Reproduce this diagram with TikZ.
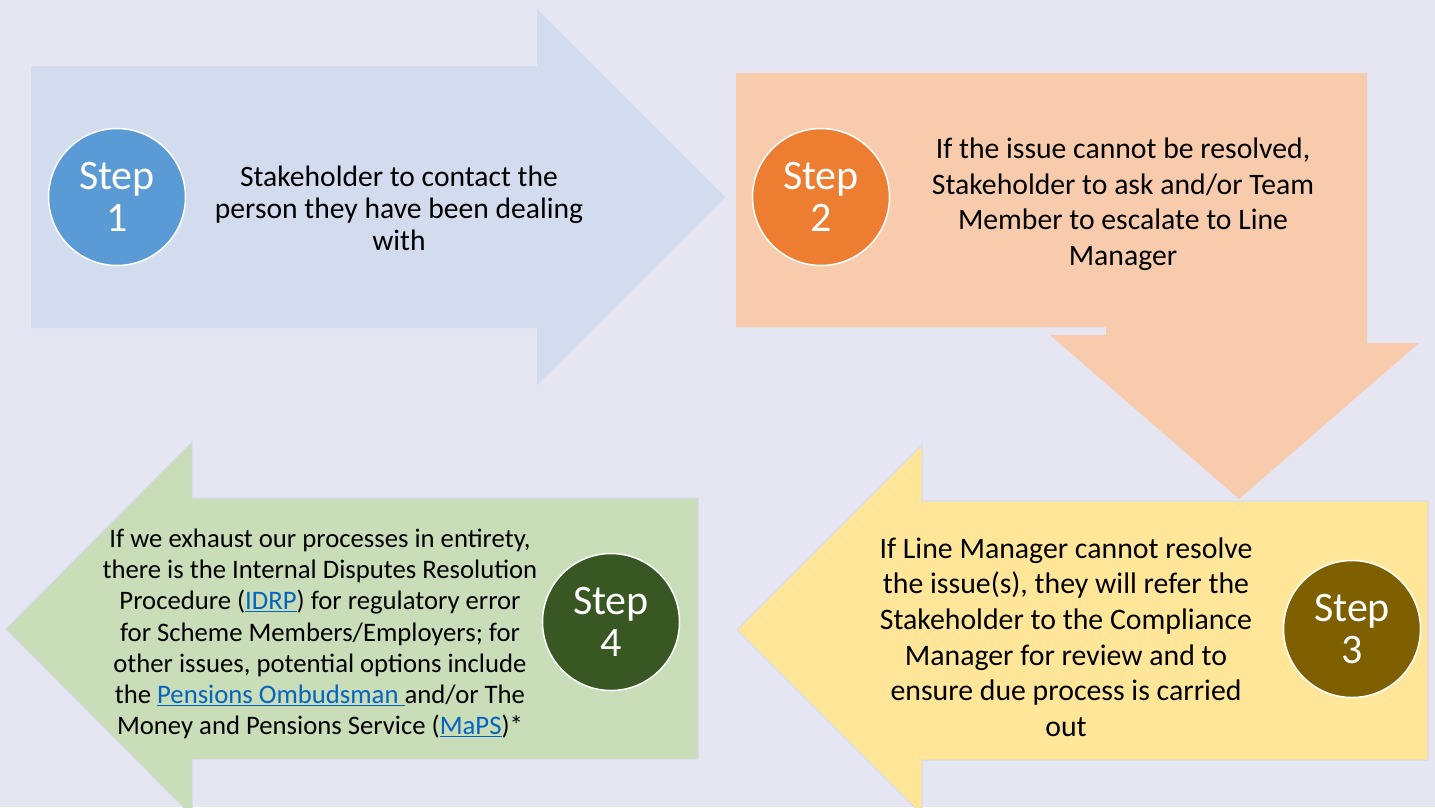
\documentclass[tikz,border=0pt]{standalone}
\usepackage{fontspec}
\setmainfont{Carlito}
\definecolor{bgc}{HTML}{E6E6F3}
\definecolor{blueA}{HTML}{D2DCEE}
\definecolor{peachA}{HTML}{F8CBAD}
\definecolor{yellowA}{HTML}{FFE699}
\definecolor{greenA}{HTML}{C8DDB8}
\definecolor{edgeA}{HTML}{D3DAEE}
\definecolor{stepblue}{HTML}{5B9BD5}
\definecolor{steporange}{HTML}{ED7D31}
\definecolor{stepbrown}{HTML}{7F6000}
\definecolor{stepgreen}{HTML}{385723}
\definecolor{link}{HTML}{0563C1}
\newcommand{\weblink}[1]{\textcolor{link}{\underline{#1}}}
\tikzset{
  stepcircle/.style={circle, minimum size=137pt, inner sep=0pt, draw=white,
    line width=1.5pt, text=white, align=center,
    font=\fontsize{42}{42}\selectfont},
  bodytext/.style={align=center, text=black, inner sep=0pt},
}
\begin{document}
\begin{tikzpicture}[x=1pt,y=-1pt]
  % page background
  \fill[bgc] (0,0) rectangle (1435,807);
  \useasboundingbox (0,0) rectangle (1435,807);

  % step 1 block arrow, pointing right
  \fill[blueA] (31,66) -- (537,66) -- (537,9) -- (725,197) -- (537,385)
    -- (537,328) -- (31,328) -- cycle;

  % step 2 bent arrow, pointing down
  \fill[peachA] (736,73) -- (1367,73) -- (1367,343) -- (1419,343) -- (1239,499)
    -- (1050,335) -- (1106,335) -- (1106,327) -- (736,327) -- cycle;

  % step 3 block arrow, pointing left
  \filldraw[fill=yellowA, draw=edgeA, line width=1pt]
    (1428,501) -- (922,501) -- (922,445) -- (737,630) -- (922,815)
    -- (922,760) -- (1428,760) -- cycle;

  % step 4 block arrow, pointing left
  \filldraw[fill=greenA, draw=edgeA, line width=1pt]
    (698,498) -- (192,498) -- (192,442) -- (6,629) -- (192,816)
    -- (192,759) -- (698,759) -- cycle;

  % step badges
  \node[stepcircle, fill=stepblue]   (s1) at (117,197)  {Step\\1};
  \node[stepcircle, fill=steporange] (s2) at (821,197)  {Step\\2};
  \node[stepcircle, fill=stepbrown]  (s3) at (1352,629) {Step\\3};
  \node[stepcircle, fill=stepgreen]  (s4) at (611,622)  {Step\\4};

  % step descriptions
  \node[bodytext, font=\fontsize{29.6}{32}\selectfont] (t1) at (399,208)
    {Stakeholder to contact the\\person they have been dealing\\with};
  \node[bodytext, font=\fontsize{29.7}{35.5}\selectfont] (t2) at (1123,204)
    {If the issue cannot be resolved,\\Stakeholder to ask and/or Team\\Member to escalate to Line\\Manager};
  \node[bodytext, font=\fontsize{29.8}{35.6}\selectfont] (t3) at (1066,637)
    {If Line Manager cannot resolve\\the issue(s), they will refer the\\Stakeholder to the Compliance\\Manager for review and to\\ensure due process is carried\\out};
  \node[bodytext, font=\fontsize{26.7}{31.2}\selectfont] (t4) at (320,634)
    {If we exhaust our processes in entirety,\\there is the Internal Disputes Resolution\\Procedure (\weblink{IDRP}) for regulatory error\\for Scheme Members/Employers; for\\other issues, potential options include\\the \weblink{Pensions Ombudsman\ }and/or The\\Money and Pensions Service (\weblink{MaPS})*};
\end{tikzpicture}
\end{document}
